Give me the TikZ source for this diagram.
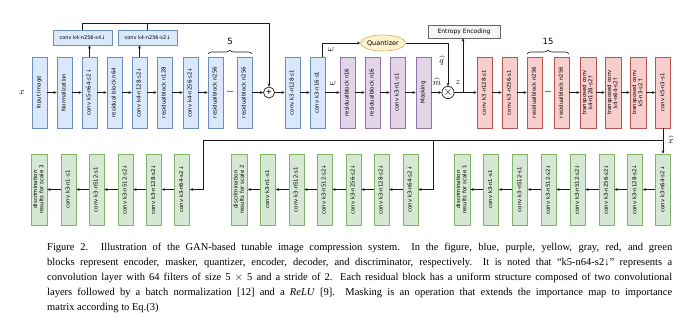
\documentclass[tikz,border=0pt]{standalone}
\usepackage{fontspec}
\setmainfont{Liberation Serif}
\newfontfamily\dvs{DejaVu Sans}
\usetikzlibrary{arrows.meta,decorations.pathreplacing,shapes.geometric,calc}
\definecolor{bfill}{HTML}{DAE8FC}\definecolor{bdraw}{HTML}{6C8EBF}
\definecolor{pfill}{HTML}{E1D5E7}\definecolor{pdraw}{HTML}{9673A6}
\definecolor{yfill}{HTML}{FFF2CC}\definecolor{ydraw}{HTML}{D6B656}
\definecolor{gfill}{HTML}{F5F5F5}\definecolor{gdraw}{HTML}{666666}
\definecolor{rfill}{HTML}{F8CECC}\definecolor{rdraw}{HTML}{B85450}
\definecolor{nfill}{HTML}{D5E8D4}\definecolor{ndraw}{HTML}{82B366}
\definecolor{linec}{HTML}{1A1A1A}
\newcommand{\rtx}[1]{\rotatebox{90}{\begin{tabular}{@{}c@{}}#1\end{tabular}}}
\begin{document}
\begin{tikzpicture}[x=1pt,y=-1pt,
  blk/.style={draw, line width=0.6pt, minimum width=15pt, minimum height=71pt, inner sep=0pt,
    font=\dvs\fontsize{5.4}{6.2}\selectfont},
  encb/.style={blk, fill=bfill, draw=bdraw},
  mskb/.style={blk, fill=pfill, draw=pdraw},
  decb/.style={blk, fill=rfill, draw=rdraw},
  disb/.style={blk, fill=nfill, draw=ndraw},
  smallb/.style={draw=bdraw, fill=bfill, line width=0.6pt, minimum width=59pt, minimum height=15pt,
    inner sep=0pt, font=\dvs\fontsize{5}{6}\selectfont},
  opc/.style={circle, draw=linec, line width=0.7pt, minimum size=11pt, inner sep=0pt},
  arr/.style={-{Stealth[length=3.2pt,width=2.8pt]}, line width=0.6pt, draw=linec},
  ln/.style={line width=0.6pt, draw=linec},
  mlab/.style={font=\fontsize{9}{9}\selectfont, inner sep=0pt},
  dotsn/.style={font=\bfseries\fontsize{8}{8}\selectfont, inner sep=0pt},
  capl/.style={anchor=base west, inner sep=0pt, font=\fontsize{10.5}{12}\selectfont}
]
\useasboundingbox (0,0) rectangle (692,323);
\fill[white] (0,0) rectangle (692,323);

% ---------- top row ----------
\node[mlab] (xin) at (22,93) {$x$};
\node[encb] (in)  at (39.5,92.5)  {\rtx{Input Image}};
\node[encb] (nrm) at (64.5,92.5)  {\rtx{Normalization}};
\node[encb] (c1)  at (89.5,92.5)  {\rtx{conv k5-n64-s2↓}};
\node[encb] (r1)  at (114.5,92.5) {\rtx{residual block n64}};
\node[encb] (c2)  at (139.5,92.5) {\rtx{conv k4-n128-s2↓}};
\node[encb] (r2)  at (164.5,92.5) {\rtx{residualblock n128}};
\node[encb] (c3)  at (190.5,92.5) {\rtx{conv k4-n256-s2↓}};
\node[encb] (r3)  at (215.5,92.5) {\rtx{residualblock n256}};
\node[dotsn] (dt1) at (230,92) {...};
\node[encb] (r4)  at (244.5,92.5) {\rtx{residualblock n256}};
\node[opc]  (plus) at (269,92.5) {\textbf{+}};
\node[encb] (c4)  at (292.5,92.5) {\rtx{conv k3-n128-s1}};
\node[encb] (c5)  at (317.5,92.5) {\rtx{conv k3-n16-s1}};
\node[mskb] (p1)  at (347.5,92.5) {\rtx{residualblock n16}};
\node[mskb] (p2)  at (372.5,92.5) {\rtx{residualblock n16}};
\node[mskb] (p3)  at (397.5,92.5) {\rtx{conv k3-n1-s1}};
\node[mskb] (msk) at (423.5,92.5) {\rtx{Masking}};
\node[opc]  (tms) at (448,92.5) {\textbf{\large$\times$}};
\node[decb] (d1)  at (484.5,92.5) {\rtx{conv k3-n128-s1}};
\node[decb] (d2)  at (509.5,92.5) {\rtx{conv k3-n256-s1}};
\node[decb] (d3)  at (534.5,92.5) {\rtx{residualblock n256}};
\node[dotsn] (dt2) at (548,92) {...};
\node[decb] (d4)  at (561.5,92.5) {\rtx{residualblock n256}};
\node[decb, minimum width=16pt] (d5) at (588,92.5) {\rtx{transposed conv\\k4-n128-s2↑}};
\node[decb, minimum width=16pt] (d6) at (613,92.5) {\rtx{transposed conv\\k4-n64-s2↑}};
\node[decb, minimum width=16pt] (d7) at (638,92.5) {\rtx{transposed conv\\k5-n3-s2↑}};
\node[decb] (d8)  at (663,92.5) {\rtx{conv k5-n3-s1}};

\node[smallb] (sb1) at (82.5,37.5) {conv k4-n256-s4↓};
\node[smallb] (sb2) at (147.5,37.5) {conv k4-n256-s2↓};
\node[ellipse, draw=ydraw, fill=yfill, line width=0.6pt, minimum width=45pt, minimum height=16pt,
  inner sep=0pt, font=\dvs\fontsize{6.5}{7}\selectfont] (qz) at (383,43) {Quantizer};
\node[draw=gdraw, fill=gfill, line width=0.6pt, minimum width=72pt, minimum height=13pt, inner sep=0pt,
  font=\dvs\fontsize{6}{7}\selectfont] (ent) at (464,31.5) {Entropy Encoding};

% braces
\draw[ln, decorate, decoration={brace, amplitude=4pt}] (208,54) -- (252,54);
\node[font=\dvs\fontsize{8.5}{9}\selectfont, inner sep=0pt] (n5) at (230,41) {5};
\draw[ln, decorate, decoration={brace, amplitude=4pt}] (527,54) -- (569,54);
\node[font=\dvs\fontsize{8.5}{9}\selectfont, inner sep=0pt] (n15) at (548,41) {15};

% chain arrows
\foreach \a/\b in {in/nrm,nrm/c1,c1/r1,r1/c2,c2/r2,r2/c3,c3/r3,r4/plus,plus/c4,c4/c5,c5/p1,p1/p2,p2/p3,p3/msk,msk/tms,tms/d1,d1/d2,d2/d3,d4/d5,d5/d6,d6/d7,d7/d8}
  \draw[arr] (\a) -- (\b);

\draw[arr] (c1.north) -- (c1.north |- sb1.south);
\draw[arr] (c2.north) -- (c2.north |- sb2.south);
\coordinate (tl) at (82.5,23);
\draw[arr] (sb1.north) -- (tl) -| (plus.north);
\draw[ln] (sb2.north) -- (sb2.north |- tl);

\coordinate (wst) at ($(c5.north)+(4.5,0)$);
\draw[arr] (wst) |- (qz.west);
\draw[arr] (qz.east) -| (tms.north);
\coordinate (zb) at (463,92.5);
\draw[arr] (zb) -- (ent.south -| zb);

\node[mlab] (w1) at (331,50) {$\omega$};
\node[mlab] (w2) at (333,84) {$\omega$};
\node[mlab] (qh) at (441.5,61) {$\widehat{q}$};
\node[mlab] (mh) at (437,82) {$\widehat{m}$};
\node[mlab] (zl) at (458,83) {$z$};

% ---------- discriminators ----------
\node[disb, minimum width=16pt] (g3r) at (39,189.5) {\rtx{discrimination\\results for scale 3}};
\node[disb] (g3a) at (68.5,189.5) {\rtx{conv k3-n1-s1}};
\node[disb] (g3b) at (96.5,189.5) {\rtx{conv k3-n512-s1}};
\node[disb] (g3c) at (125.5,189.5) {\rtx{conv k3-n512-s2↓}};
\node[disb] (g3d) at (154,189.5) {\rtx{conv k3-n128-s2↓}};
\node[disb] (g3e) at (182,189.5) {\rtx{conv k3-n64-s2↓}};

\node[disb, minimum width=16pt] (g2r) at (239.5,189.5) {\rtx{discrimination\\results for scale 2}};
\node[disb] (g2a) at (268,189.5) {\rtx{conv k3-n1-s1}};
\node[disb] (g2b) at (296.5,189.5) {\rtx{conv k3-n512-s1}};
\node[disb] (g2c) at (324.5,189.5) {\rtx{conv k3-n512-s2↓}};
\node[disb] (g2d) at (353.5,189.5) {\rtx{conv k3-n256-s2↓}};
\node[disb] (g2e) at (381.5,189.5) {\rtx{conv k3-n128-s2↓}};
\node[disb] (g2f) at (410.5,189.5) {\rtx{conv k3-n64-s2↓}};

\node[disb, minimum width=16pt] (g1r) at (462,189.5) {\rtx{discrimination\\results for scale 1}};
\node[disb] (g1a) at (491,189.5) {\rtx{conv k3-n1-s1}};
\node[disb] (g1b) at (520,189.5) {\rtx{conv k3-n512-s1}};
\node[disb] (g1c) at (548.5,189.5) {\rtx{conv k3-n512-s2↓}};
\node[disb] (g1d) at (577.5,189.5) {\rtx{conv k3-n512-s2↓}};
\node[disb] (g1e) at (606.5,189.5) {\rtx{conv k3-n256-s2↓}};
\node[disb] (g1f) at (635,189.5) {\rtx{conv k3-n128-s2↓}};
\node[disb] (g1g) at (663,189.5) {\rtx{conv k3-n64-s2↓}};

\foreach \a/\b in {g3e/g3d,g3d/g3c,g3c/g3b,g3b/g3a,g3a/g3r,
                   g2f/g2e,g2e/g2d,g2d/g2c,g2c/g2b,g2b/g2a,g2a/g2r,
                   g1g/g1f,g1f/g1e,g1e/g1d,g1d/g1c,g1c/g1b,g1b/g1a,g1a/g1r}
  \draw[arr] (\a) -- (\b);

\draw[arr] (d8.south) -- (g1g.north);
\coordinate (xh) at (663,140);
\coordinate (k3) at (203,140);
\coordinate (k2) at (433,140);
\draw[ln] (xh) -- (k3);
\draw[arr] (k3) |- (g3e.east);
\draw[arr] (k2) |- (g2f.east);
\node[mlab] (xhat) at (671,140) {$\widehat{x}$};

% ---------- caption ----------
\node[capl] (cap1) at (47,250) {\makebox[625pt][s]{Figure 2. Illustration of the GAN-based tunable image compression system.\ \ In the figure, blue, purple, yellow, gray, red, and green}};
\node[capl] (cap2) at (47,265) {\makebox[625pt][s]{blocks represent encoder, masker, quantizer, encoder, decoder, and discriminator, respectively.\ \ It is noted that “k5-n64-s2↓” represents a}};
\node[capl] (cap3) at (47,280) {\makebox[625pt][s]{convolution layer with 64 filters of size 5 $\times$ 5 and a stride of 2. Each residual block has a uniform structure composed of two convolutional}};
\node[capl] (cap4) at (47,295) {\makebox[625pt][s]{layers followed by a batch normalization [12] and a \textit{ReLU} [9].\ \ Masking is an operation that extends the importance map to importance}};
\node[capl] (cap5) at (47,310) {matrix according to Eq.(3)};
\end{tikzpicture}
\end{document}
